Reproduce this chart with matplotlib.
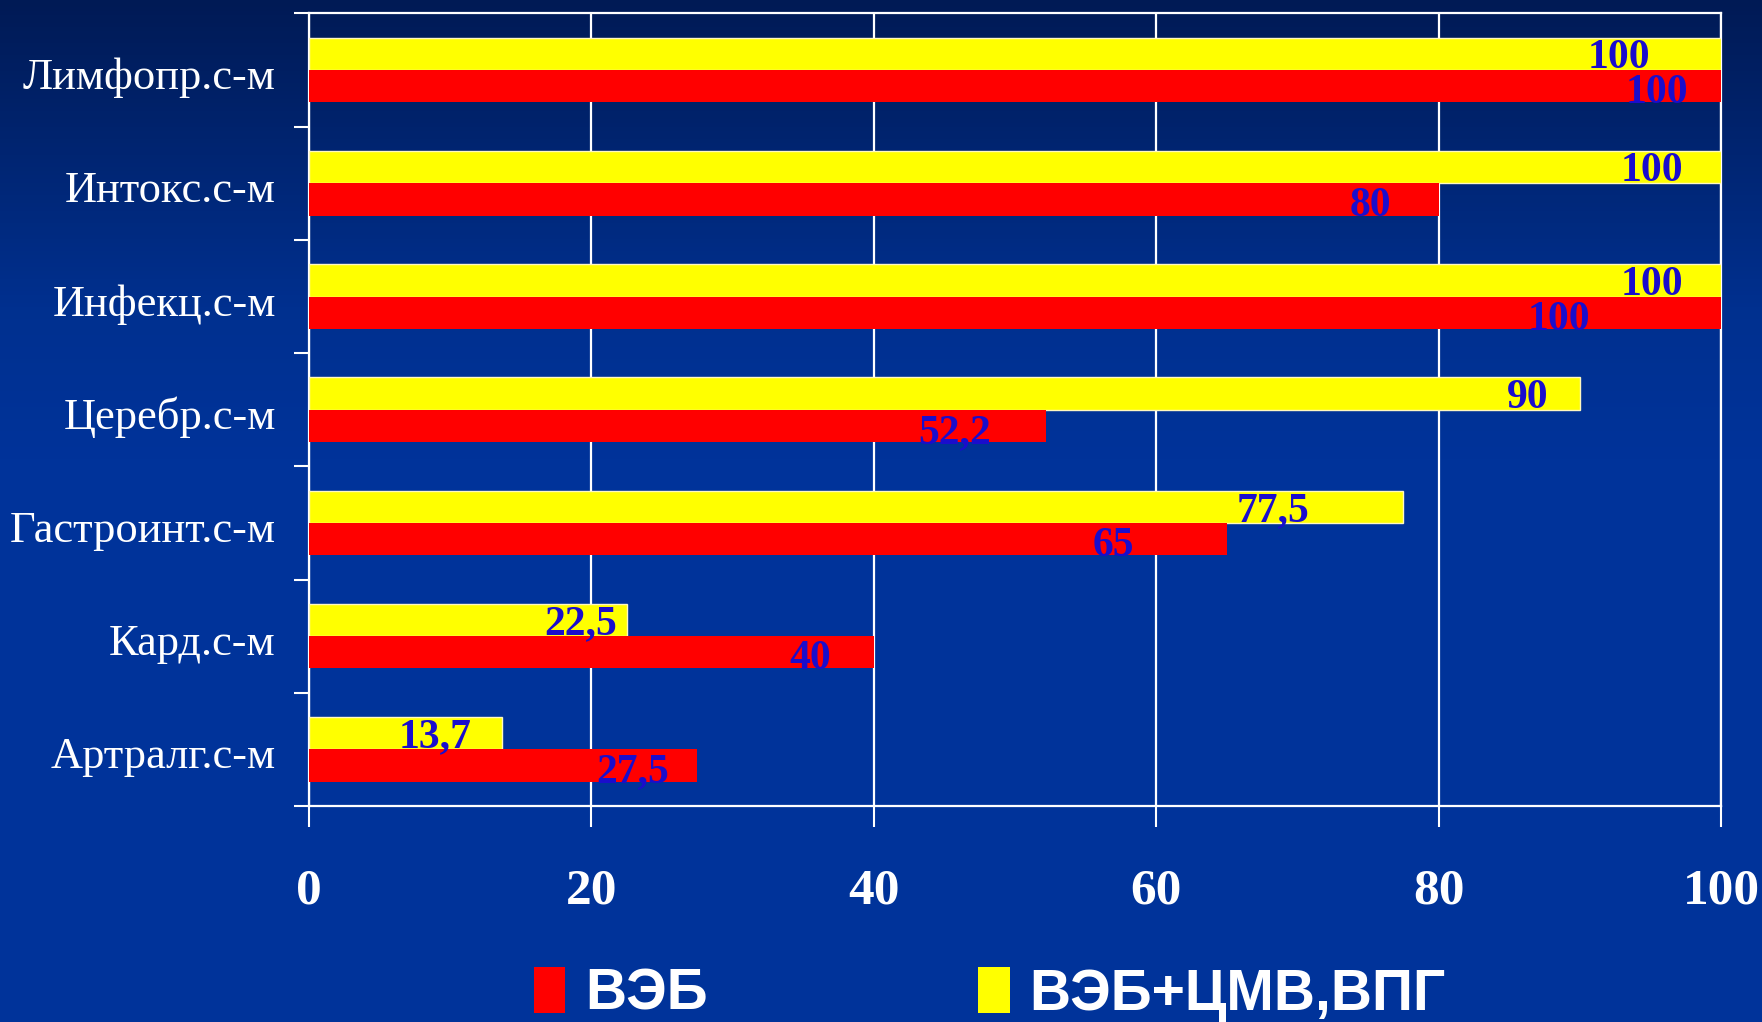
import matplotlib

matplotlib.use("Agg")
import matplotlib.pyplot as plt
import numpy as np
from matplotlib.colors import LinearSegmentedColormap
from matplotlib.patches import Patch

categories = ["Лимфопр.с-м", "Интокс.с-м", "Инфекц.с-м", "Церебр.с-м",
              "Гастроинт.с-м", "Кард.с-м", "Артралг.с-м"]
veb = [100, 80, 100, 52.2, 65, 40, 27.5]
veb_cmv = [100, 100, 100, 90, 77.5, 22.5, 13.7]
series_names = ["ВЭБ", "ВЭБ+ЦМВ,ВПГ"]
x_ticks = [0, 20, 40, 60, 80, 100]

# label nudges (data units) so labels sit where the original slide put them
veb_nudge = [-4.5, -4.8, -11.5, -6.5, -8.0, -4.5, -4.6]
veb_cmv_nudge = [-7.2, -4.9, -4.9, -3.7, -9.2, -3.3, -4.8]


def fmt(v):
    return f"{v:g}".replace(".", ",")


fig = plt.figure(figsize=(17.62, 10.22), dpi=100)

# background gradient
bg = fig.add_axes([0, 0, 1, 1])
cmap = LinearSegmentedColormap.from_list(
    "bg", [(0.0, "#001a55"), (0.3, "#00308f"), (0.45, "#00339a"), (1.0, "#00339a")])
grad = np.linspace(0, 1, 256).reshape(-1, 1)
bg.imshow(grad, cmap=cmap, aspect="auto", extent=[0, 1, 0, 1], origin="upper")
bg.set_axis_off()

ax = fig.add_axes([0.1754, 0.2114, 0.8013, 0.7754])
ax.patch.set_alpha(0)

n = len(categories)
y = np.arange(n)[::-1].astype(float)
h = 0.285
ax.barh(y + h / 2, veb_cmv, height=h, color="#ffff00", edgecolor="#fff8c0",
        linewidth=1.0, zorder=3)
ax.barh(y - h / 2, veb, height=h, color="#ff0000", linewidth=0, zorder=3)

lab = dict(ha="center", va="center", color="#1a0dcc", fontsize=30,
           fontweight="bold", family="Liberation Serif", zorder=4,
           textcoords="offset points")
for yi, v, d in zip(y, veb_cmv, veb_cmv_nudge):
    ax.annotate(fmt(v), (v + d, yi + h / 2), xytext=(0, -3), **lab)
for yi, v, d in zip(y, veb, veb_nudge):
    ax.annotate(fmt(v), (v + d, yi - h / 2), xytext=(0, -5), **lab)

ax.set_xlim(0, 100)
ax.set_ylim(-0.5, n - 0.5)
ax.set_xticks(x_ticks)
ax.set_xticklabels([str(t) for t in x_ticks], family="Liberation Serif",
                   fontweight="bold", fontsize=37, color="white")
ax.tick_params(axis="x", length=15, width=1.5, color="white", pad=30)

ax.set_yticks(np.arange(-0.5, n, 1.0))
ax.set_yticklabels([])
ax.tick_params(axis="y", which="major", length=11, width=1.5, color="white")
ax.set_yticks(y - 0.03, minor=True)
ax.set_yticklabels(categories, minor=True, family="Liberation Serif",
                   fontsize=32, color="white")
ax.tick_params(axis="y", which="minor", length=0, pad=24)

ax.grid(axis="x", color="white", linewidth=1.6, zorder=1)
ax.set_axisbelow(True)
for s in ax.spines.values():
    s.set_color("white")
    s.set_linewidth(1.6)

handles = [Patch(facecolor="#ff0000", edgecolor="none"),
           Patch(facecolor="#ffff00", edgecolor="none")]
fig.legend(handles, series_names, loc="center left", bbox_to_anchor=(0.303, 0.027), ncol=2,
           frameon=False, prop={"family": "Liberation Sans", "weight": "bold", "size": 41},
           labelcolor="white", handlelength=0.55, handleheight=0.85, handletextpad=0.35,
           columnspacing=4.75, borderpad=0, borderaxespad=0)

fig.savefig("out.png", dpi=100)
